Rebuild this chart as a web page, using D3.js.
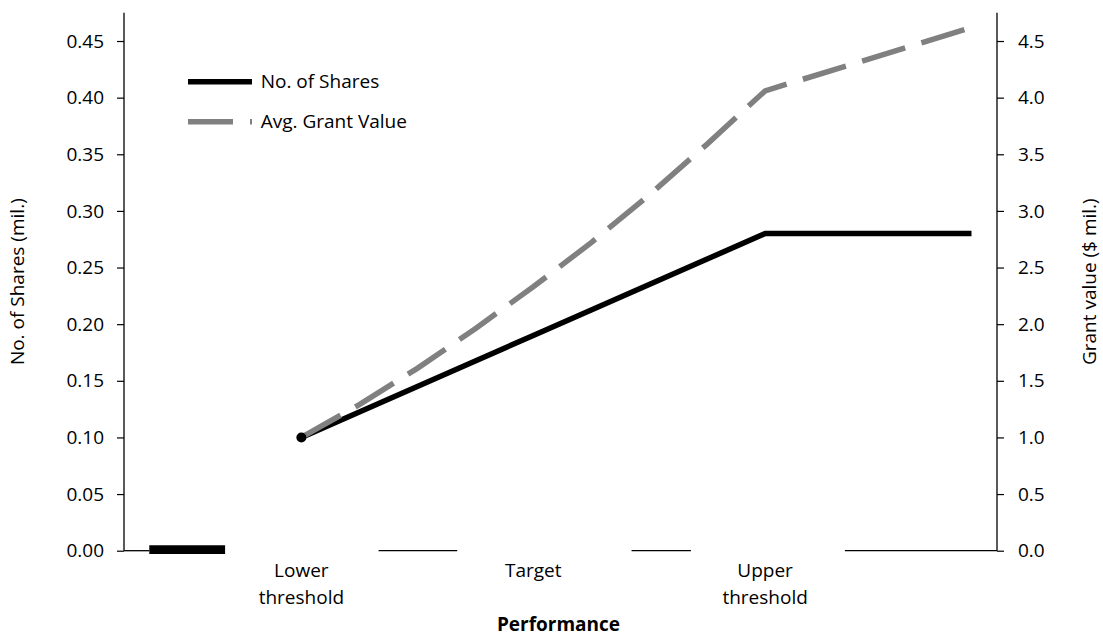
<!DOCTYPE html>
<html>
<head>
<meta charset="utf-8">
<script src="https://cdn.jsdelivr.net/npm/d3@7"></script>
<style>
  html, body { margin: 0; padding: 0; background: #ffffff; }
  svg { display: block; font-family: "Open Sans", sans-serif; }
</style>
</head>
<body>
<svg id="chart" width="1103" height="638"></svg>
<script>
// ---- data ----
const categoryLabels = [["Lower", "threshold"], ["Target"], ["Upper", "threshold"]];
const categoryX = [1, 2, 3];
const perfX = [1, 1.25, 1.5, 1.75, 2, 2.25, 2.5, 2.75, 3, 3.89];
const shares = [0.10, 0.1225, 0.145, 0.1675, 0.19, 0.2125, 0.235, 0.2575, 0.28, 0.28];
const grantValue = [1.00, 1.29, 1.61, 1.96, 2.33, 2.72, 3.14, 3.59, 4.06, 4.62];
const belowX = [0.344, 0.671];
const belowShares = [0, 0];
const leftTicks = [0, 0.05, 0.10, 0.15, 0.20, 0.25, 0.30, 0.35, 0.40, 0.45];
const rightTicks = [0, 0.5, 1.0, 1.5, 2.0, 2.5, 3.0, 3.5, 4.0, 4.5];
const seriesNames = ["No. of Shares", "Avg. Grant Value"];

// ---- layout ----
const svg = d3.select("#chart");
const L = 124, R = 997, T = 12.7, B = 550.7;
const x = d3.scaleLinear().domain([0.235, 4.0]).range([L, R]);
const yL = d3.scaleLinear().domain([0, 0.475]).range([B, T]);
const yR = d3.scaleLinear().domain([0, 4.75]).range([B, T]);
const FS = 19;

// x-axis line (visible pieces)
const axisPieces = [[0.235, 0.344], [1.333, 1.672], [2.424, 2.68], [3.344, 4.0]];
svg.append("g").selectAll("line").data(axisPieces).join("line")
  .attr("x1", d => x(d[0])).attr("x2", d => x(d[1]))
  .attr("y1", yL(0)).attr("y2", yL(0))
  .attr("stroke", "#000").attr("stroke-width", 1.3);

// left axis
const gL = svg.append("g").attr("transform", `translate(${L},0)`)
  .call(d3.axisLeft(yL).tickValues(leftTicks).tickFormat(d3.format(".2f")).tickSize(7).tickPadding(13));
gL.select(".domain").attr("d", `M-0,${T}V${B}`).attr("stroke-width", 1.3);
gL.selectAll(".tick line").attr("stroke-width", 1.2);
gL.selectAll("text").attr("font-size", FS).attr("font-family", "Open Sans").attr("fill", "#000");

// right axis
const gR = svg.append("g").attr("transform", `translate(${R},0)`)
  .call(d3.axisRight(yR).tickValues(rightTicks).tickFormat(d3.format(".1f")).tickSize(7).tickPadding(14));
gR.select(".domain").attr("d", `M0,${T}V${B}`).attr("stroke-width", 1.3);
gR.selectAll(".tick line").attr("stroke-width", 1.2);
gR.selectAll("text").attr("font-size", FS).attr("font-family", "Open Sans").attr("fill", "#000");

// below-threshold bar (zero shares)
svg.append("line")
  .attr("x1", x(belowX[0])).attr("x2", x(belowX[1]))
  .attr("y1", yL(belowShares[0]) - 1).attr("y2", yL(belowShares[1]) - 1)
  .attr("stroke", "#000").attr("stroke-width", 8.7);

// shares line
const pts = perfX.map((v, i) => ({ x: v, s: shares[i], g: grantValue[i] }));
svg.append("path").datum(pts)
  .attr("d", d3.line().x(d => x(d.x)).y(d => yL(d.s)))
  .attr("fill", "none").attr("stroke", "#000").attr("stroke-width", 5.5)
  .attr("stroke-linejoin", "miter");

// grant value line
svg.append("path").datum(pts)
  .attr("d", d3.line().x(d => x(d.x)).y(d => yR(d.g)))
  .attr("fill", "none").attr("stroke", "#808080").attr("stroke-width", 5.5)
  .attr("stroke-dasharray", "45,17").attr("stroke-linecap", "butt");

// marker at lower threshold
svg.append("circle").attr("cx", x(perfX[0])).attr("cy", yL(shares[0])).attr("r", 5).attr("fill", "#000");

// category labels
const cl = svg.append("g");
categoryLabels.forEach((lines, i) => {
  const t = cl.append("text").attr("text-anchor", "middle").attr("font-size", FS).attr("fill", "#000");
  lines.forEach((ln, j) => {
    t.append("tspan").attr("x", x(categoryX[i])).attr("y", 577 + j * 27).text(ln);
  });
});

// x title
svg.append("text").attr("x", (L + R) / 2 - 2).attr("y", 631).attr("text-anchor", "middle")
  .attr("font-size", FS).attr("font-weight", "bold").text("Performance");

// y titles
svg.append("text").attr("transform", `translate(24,${(T + B) / 2}) rotate(-90)`)
  .attr("text-anchor", "middle").attr("font-size", FS).text("No. of Shares (mil.)");
svg.append("text").attr("transform", `translate(1096,${(T + B) / 2}) rotate(-90)`)
  .attr("text-anchor", "middle").attr("font-size", FS).text("Grant value ($ mil.)");

// legend
const leg = svg.append("g");
leg.append("line").attr("x1", 188).attr("x2", 252).attr("y1", 81.7).attr("y2", 81.7)
  .attr("stroke", "#000").attr("stroke-width", 5.5);
leg.append("line").attr("x1", 188).attr("x2", 252).attr("y1", 121.7).attr("y2", 121.7)
  .attr("stroke", "#808080").attr("stroke-width", 5.5).attr("stroke-dasharray", "45,17");
leg.append("text").attr("x", 260.7).attr("y", 88).attr("font-size", FS).text(seriesNames[0]);
leg.append("text").attr("x", 260.7).attr("y", 128).attr("font-size", FS).text(seriesNames[1]);
</script>
</body>
</html>
